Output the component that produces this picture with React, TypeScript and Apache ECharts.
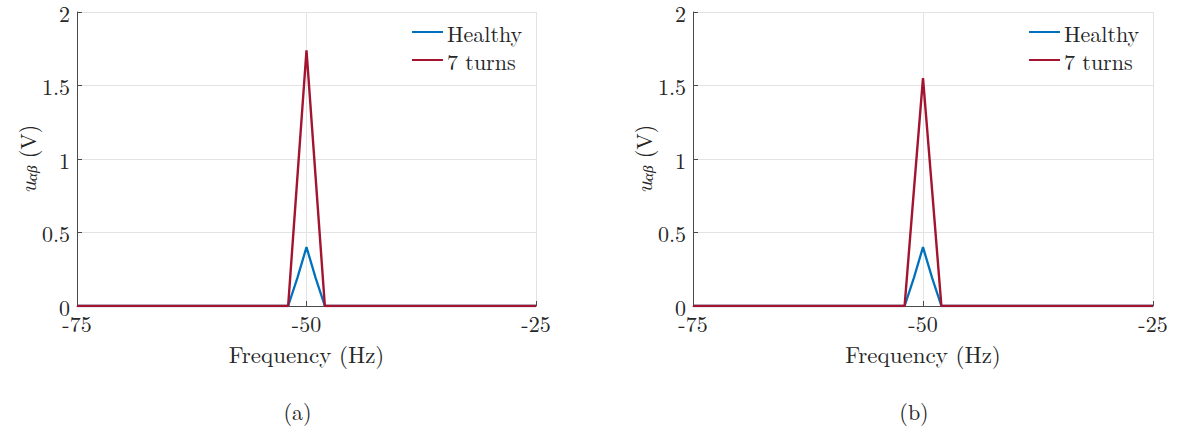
import React, { useEffect, useRef } from "react";
import * as echarts from "echarts";

// Spectrum around the -50 Hz component, panels (a) and (b)
const frequency = [-75, -52, -51, -50, -49, -48, -25];
const healthyA = [0, 0, 0.19, 0.4, 0.19, 0, 0];
const turnsA = [0, 0, 0.87, 1.74, 0.87, 0, 0];
const healthyB = [0, 0, 0.19, 0.4, 0.19, 0, 0];
const turnsB = [0, 0, 0.78, 1.55, 0.78, 0, 0];
const xTicks = [-75, -50, -25];
const yTicks = [0, 0.5, 1, 1.5, 2];
const seriesNames = ["Healthy", "7 turns"];
const captions = ["(a)", "(b)"];

const FONT = "Latin Modern Roman";
const TEXT = "#262626";
const BLUE = "#0072BD";
const RED = "#A2142F";
const GRID = "#e3e3e3";
const AXIS = "#4a4a4a";

const pairs = (ys: number[]) => frequency.map((f, i) => [f, ys[i]]);

export default function App() {
  const ref = useRef<HTMLDivElement>(null);

  useEffect(() => {
    document.body.style.margin = "0";
    if (!ref.current) return;
    const chart = echarts.init(ref.current, undefined, { renderer: "svg" });

    const panels = [
      { left: 77, width: 459, healthy: healthyA, turns: turnsA, legendLeft: 412 },
      { left: 693, width: 460, healthy: healthyB, turns: turnsB, legendLeft: 1029 },
    ];

    const xStep = xTicks[1] - xTicks[0];
    const yStep = yTicks[1] - yTicks[0];

    const option: any = {
      animation: false,
      backgroundColor: "#ffffff",
      textStyle: { fontFamily: FONT, color: TEXT },
      grid: panels.map((p) => ({
        left: p.left,
        top: 12,
        width: p.width,
        height: 294,
        containLabel: false,
      })),
      xAxis: panels.map((_, i) => ({
        type: "value",
        gridIndex: i,
        min: xTicks[0],
        max: xTicks[xTicks.length - 1],
        interval: xStep,
        name: "Frequency (Hz)",
        nameLocation: "middle",
        nameGap: 36,
        nameTextStyle: { fontFamily: FONT, fontSize: 23, color: TEXT },
        axisLine: { show: true, onZero: false, lineStyle: { color: AXIS, width: 1 } },
        axisTick: { show: true, inside: true, length: 5, lineStyle: { color: AXIS } },
        axisLabel: {
          fontFamily: FONT,
          fontSize: 22,
          color: TEXT,
          margin: 5,
          formatter: (v: number) => String(v),
        },
        splitLine: { show: true, lineStyle: { color: GRID, width: 1 } },
      })),
      yAxis: panels.map((_, i) => ({
        type: "value",
        gridIndex: i,
        min: yTicks[0],
        max: yTicks[yTicks.length - 1],
        interval: yStep,
        name: "{u|u}{s|αβ} {n|(V)}",
        nameLocation: "middle",
        nameGap: 39,
        nameTextStyle: {
          fontFamily: FONT,
          fontSize: 22,
          color: TEXT,
          rich: {
            u: { fontFamily: FONT, fontSize: 23, fontStyle: "italic", color: TEXT, lineHeight: 26, verticalAlign: "bottom" },
            s: { fontFamily: FONT, fontSize: 15, fontStyle: "italic", color: TEXT, lineHeight: 26, verticalAlign: "bottom", padding: [11, 0, 0, 0] },
            n: { fontFamily: FONT, fontSize: 22, color: TEXT, lineHeight: 26, verticalAlign: "bottom" },
          },
        },
        axisLine: { show: true, onZero: false, lineStyle: { color: AXIS, width: 1 } },
        axisTick: { show: true, inside: true, length: 5, lineStyle: { color: AXIS } },
        axisLabel: { fontFamily: FONT, fontSize: 22, color: TEXT, margin: 7 },
        splitLine: { show: true, lineStyle: { color: GRID, width: 1 } },
      })),
      legend: panels.map((p) => ({
        orient: "vertical",
        left: p.legendLeft,
        top: 20,
        icon: "rect",
        itemWidth: 31,
        itemHeight: 2,
        itemGap: 4,
        padding: 0,
        selectedMode: false,
        textStyle: { fontFamily: FONT, fontSize: 22, color: TEXT, lineHeight: 24, padding: [0, 0, 0, -1] },
        data: seriesNames,
      })),
      series: panels.flatMap((p, i) => [
        {
          name: seriesNames[0],
          type: "line",
          xAxisIndex: i,
          yAxisIndex: i,
          data: pairs(p.healthy),
          symbol: "none",
          lineStyle: { color: BLUE, width: 2.3 },
          itemStyle: { color: BLUE },
        },
        {
          name: seriesNames[1],
          type: "line",
          xAxisIndex: i,
          yAxisIndex: i,
          data: pairs(p.turns),
          symbol: "none",
          lineStyle: { color: RED, width: 2.4 },
          itemStyle: { color: RED },
        },
      ]),
      graphic: panels.map((p, i) => ({
        type: "text",
        x: p.left + p.width / 2 - 9,
        y: 410,
        style: {
          text: captions[i],
          fontFamily: FONT,
          fontSize: 22,
          fill: TEXT,
          textAlign: "center",
          textVerticalAlign: "middle",
        },
      })),
    };

    chart.setOption(option);
    return () => chart.dispose();
  }, []);

  return <div ref={ref} style={{ width: 1188, height: 429 }} />;
}
